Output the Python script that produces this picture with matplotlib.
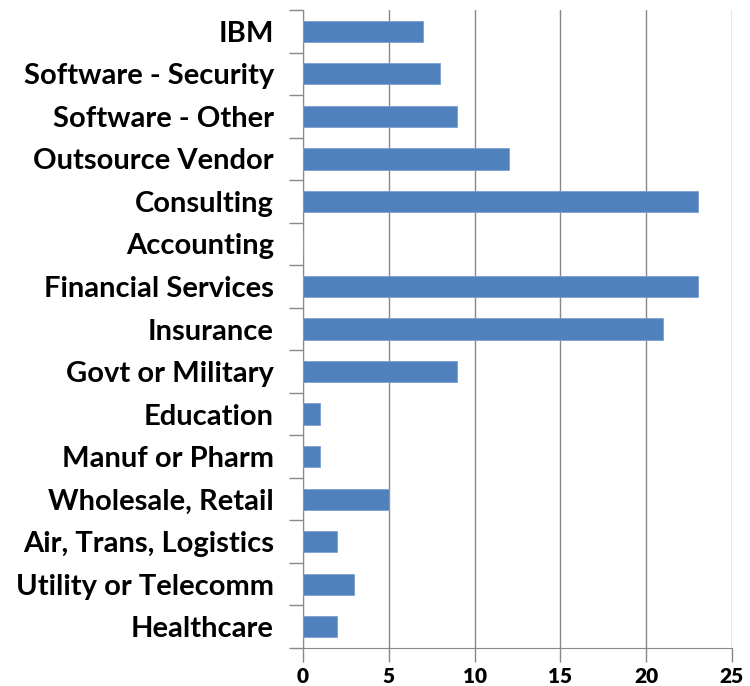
import matplotlib
matplotlib.use("Agg")
import matplotlib.pyplot as plt

categories = ["IBM", "Software - Security", "Software - Other", "Outsource Vendor",
              "Consulting", "Accounting", "Financial Services", "Insurance",
              "Govt or Military", "Education", "Manuf or Pharm", "Wholesale, Retail",
              "Air, Trans, Logistics", "Utility or Telecomm", "Healthcare"]
counts = [7, 8, 9, 12, 23, 0, 23, 21, 9, 1, 1, 5, 2, 3, 2]
x_ticks = [0, 5, 10, 15, 20, 25]

plt.rcParams["font.family"] = ["Lato", "DejaVu Sans"]
plt.rcParams["font.weight"] = "bold"

fig = plt.figure(figsize=(7.5, 6.86), dpi=100)
ax = fig.add_axes([0.404, 0.0554, 0.572, 0.9300])

n = len(categories)
ypos = list(range(n))[::-1]
ax.barh(ypos, counts, height=0.5, color="#4F81BD", edgecolor="#7a9fd0",
        linewidth=0.6, zorder=3)

ax.set_xlim(0, 25)
ax.set_ylim(-0.5, n - 0.5)
ax.set_xticks(x_ticks)
ax.set_xticklabels([str(t) for t in x_ticks], fontsize=15, fontweight="heavy")
ax.set_yticks(ypos)
ax.set_yticklabels(categories, fontsize=21, fontweight="bold")
ax.set_yticks([i - 0.5 for i in range(n + 1)], minor=True)

ax.grid(axis="x", color="#888888", linewidth=1.0, zorder=0)
for s in ["top", "right"]:
    ax.spines[s].set_visible(False)
ax.spines["left"].set_color("#888888")
ax.spines["bottom"].set_color("#888888")
ax.tick_params(axis="y", which="major", length=0, pad=21)
ax.tick_params(axis="y", which="minor", length=10, color="#888888", width=1.0)
ax.tick_params(axis="x", length=10, color="#888888", width=1.0, pad=4)

fig.savefig("out.png", dpi=100)
